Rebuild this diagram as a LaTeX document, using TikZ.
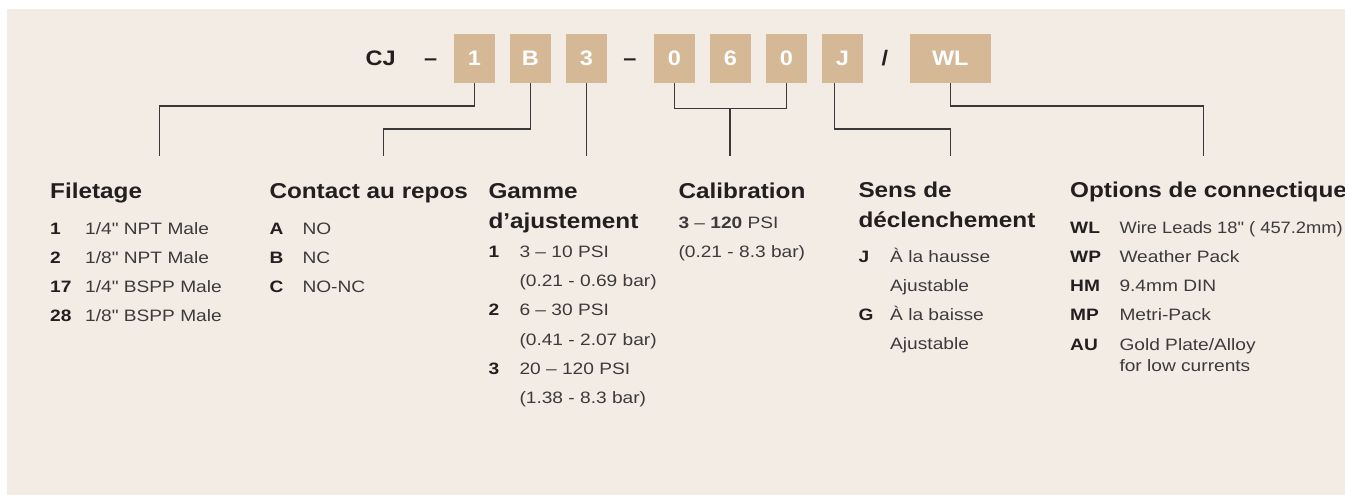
\documentclass[tikz,border=0pt]{standalone}
\usepackage{fontspec}
\setmainfont{Liberation Sans}
\newfontfamily\hdfont[FakeStretch=1.13]{Liberation Sans}
\newfontfamily\bxfont[FakeStretch=1.12]{Liberation Sans}
\newfontfamily\itfont[FakeStretch=1.16]{Liberation Sans}
\newfontfamily\itnarrow[FakeStretch=1.11]{Liberation Sans}
\definecolor{bg}{HTML}{F2ECE5}
\definecolor{tanbox}{HTML}{D5B896}
\definecolor{ink}{HTML}{231F20}
\definecolor{linecol}{HTML}{3A3838}
\begin{document}
\begin{tikzpicture}[x=1pt,y=-1pt,
  hd/.style={anchor=base west,inner sep=0,font=\hdfont\bfseries\fontsize{21.5}{25}\selectfont,text=ink},
  it/.style={anchor=base west,inner sep=0,font=\itfont\fontsize{16.5}{19}\selectfont,text=ink!88},
  nm/.style={anchor=base west,inner sep=0,font=\itfont\bfseries\fontsize{16.5}{19}\selectfont,text=ink},
  codebox/.style={fill=tanbox,minimum height=49,minimum width=40.5,inner sep=0,text height=15,text depth=0,text=white,font=\bxfont\bfseries\fontsize{21}{25}\selectfont},
  sym/.style={anchor=base,inner sep=0,text=ink,font=\bxfont\bfseries\fontsize{21}{25}\selectfont},
  conn/.style={draw=linecol,line width=1.3}]
\useasboundingbox (0,0) rectangle (1345,495);
\fill[bg] (7,9) rectangle (1345,495);

% code line
\node[sym] (cj) at (380.7,66) {CJ};
\node[sym] (d1) at (430.7,66) {–};
\node[codebox] (b1) at (474.5,58.5) {1};
\node[codebox] (b2) at (530.3,58.5) {B};
\node[codebox] (b3) at (586.3,58.5) {3};
\node[sym] (d2) at (630,66) {–};
\node[codebox] (b4) at (674.5,58.5) {0};
\node[codebox] (b5) at (730.5,58.5) {6};
\node[codebox] (b6) at (786.5,58.5) {0};
\node[codebox] (b7) at (842.5,58.5) {J};
\node[sym] (sl) at (885,66) {/};
\node[codebox,minimum width=80.7] (b8) at (950.3,58.5) {WL};

% connectors
\coordinate (k1) at (159.5,106);  \coordinate (e1) at (159.5,156);
\coordinate (k2) at (383.5,129);  \coordinate (e2) at (383.5,156);
\coordinate (e3) at (586.3,156);
\coordinate (k4) at (730,108.5);  \coordinate (e4) at (730,156);
\coordinate (s7) at (834.5,83);   \coordinate (k7) at (950.3,129); \coordinate (e7) at (950.3,156);
\coordinate (k8) at (1203.3,106); \coordinate (e8) at (1203.3,156);
\draw[conn] (b1.south) |- (k1) -- (e1);
\draw[conn] (b2.south) |- (k2) -- (e2);
\draw[conn] (b3.south) -- (e3);
\draw[conn] (b4.south) |- (k4) -| (b6.south);
\draw[conn] (k4) -- (e4);
\draw[conn] (s7) |- (k7) -- (e7);
\draw[conn] (b8.south) |- (k8) -- (e8);

% Filetage
\node[hd] (h1) at (50,198.5) {Filetage};
\node[nm] (f1n) at (50,234) {1};   \node[it] (f1t) at (85,234) {1/4" NPT Male};
\node[nm] (f2n) at (50,263) {2};   \node[it] (f2t) at (85,263) {1/8" NPT Male};
\node[nm] (f3n) at (50,292) {17};  \node[it] (f3t) at (85,292) {1/4" BSPP Male};
\node[nm] (f4n) at (50,321) {28};  \node[it] (f4t) at (85,321) {1/8" BSPP Male};

% Contact au repos
\node[hd] (h2) at (269.3,198.5) {Contact au repos};
\node[nm] (c1n) at (269.3,234) {A}; \node[it] (c1t) at (302.3,234) {NO};
\node[nm] (c2n) at (269.3,263) {B}; \node[it] (c2t) at (302.3,263) {NC};
\node[nm] (c3n) at (269.3,292) {C}; \node[it] (c3t) at (302.3,292) {NO-NC};

% Gamme d'ajustement
\node[hd] (h3a) at (488.3,198.3) {Gamme};
\node[hd] (h3b) at (488.3,228.3) {d’ajustement};
\node[nm] (g1n) at (488.3,257.5) {1}; \node[it] (g1t) at (519.3,257.5) {3 – 10 PSI};
\node[it] (g1b) at (519.3,286.7) {(0.21 - 0.69 bar)};
\node[nm] (g2n) at (488.3,315.9) {2}; \node[it] (g2t) at (519.3,315.9) {6 – 30 PSI};
\node[it] (g2b) at (519.3,345.1) {(0.41 - 2.07 bar)};
\node[nm] (g3n) at (488.3,374.3) {3}; \node[it] (g3t) at (519.3,374.3) {20 – 120 PSI};
\node[it] (g3b) at (519.3,403.5) {(1.38 - 8.3 bar)};

% Calibration
\node[hd] (h4) at (678.3,198.3) {Calibration};
\node[it] (k1t) at (678.3,228.3) {{\bfseries 3} – {\bfseries 120} PSI};
\node[it] (k1b) at (678.3,257.3) {(0.21 - 8.3 bar)};

% Sens de declenchement
\node[hd] (h5a) at (858.3,197.5) {Sens de};
\node[hd] (h5b) at (858.3,227.3) {déclenchement};
\node[nm] (s1n) at (858.3,262.3) {J}; \node[it] (s1t) at (890,262.3) {À la hausse};
\node[it] (s1b) at (890,291.5) {Ajustable};
\node[nm] (s2n) at (858.3,320.7) {G}; \node[it] (s2t) at (890,320.7) {À la baisse};
\node[it] (s2b) at (890,349.9) {Ajustable};

% Options de connectique
\node[hd] (h6) at (1070,197.5) {Options de connectique};
\node[nm] (o1n) at (1070,233.3) {WL}; \node[it,font=\itnarrow\fontsize{16.5}{19}\selectfont] (o1t) at (1119.3,233.3) {Wire Leads 18" ( 457.2mm)};
\node[nm] (o2n) at (1070,262.5) {WP}; \node[it] (o2t) at (1119.3,262.5) {Weather Pack};
\node[nm] (o3n) at (1070,291.7) {HM}; \node[it] (o3t) at (1119.3,291.7) {9.4mm DIN};
\node[nm] (o4n) at (1070,320.9) {MP}; \node[it] (o4t) at (1119.3,320.9) {Metri-Pack};
\node[nm] (o5n) at (1070,350.1) {AU}; \node[it] (o5t) at (1119.3,350.1) {Gold Plate/Alloy};
\node[it] (o5b) at (1119.3,371.7) {for low currents};
\end{tikzpicture}
\end{document}
